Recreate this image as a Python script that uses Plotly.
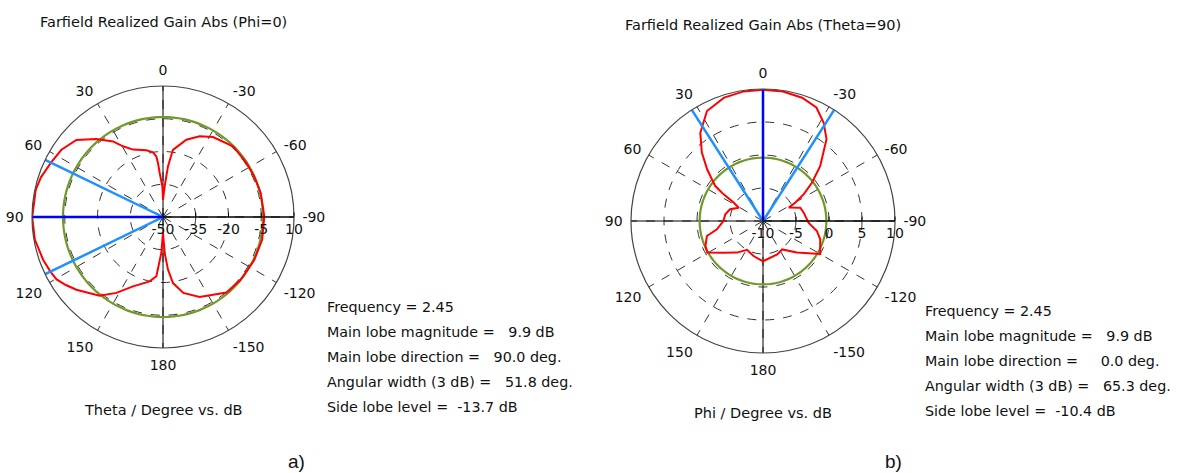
import plotly.graph_objects as go

# ---------------- data ----------------
angle_ticks = [0, 30, 60, 90, 120, 150, 180, 210, 240, 270, 300, 330]
angle_labels = ["0", "30", "60", "90", "120", "150", "180", "-150", "-120", "-90", "-60", "-30"]

# (a) Phi = 0 cut, theta in degrees, gain in dB
theta_a = [-180, -177.3, -174.6, -171.4, -165, -155.4, -140, -129, -115.4, -103, -89.6, -76, -65.7,
           -57, -44.7, -32, -24.4, -16.8, -8.4, -5.6, -3.1, 0,
           1.2, 4.3, 5.3, 6.3, 8.8, 14, 24, 29.5, 33.5, 40.5, 48.3, 56.5, 64, 72, 78, 90,
           100, 109.6, 116, 120.4, 125, 130, 141.2, 148.4, 156.6, 168.3, 173.6, 177.3, 180]
gain_a = [-42.7, -33.5, -25.8, -19.4, -14.0, -9.7, -4.8, -4.3, -3.8, -3.4, -3.6, -3.9, -4.3,
          -4.5, -4.4, -6.8, -9.4, -13.0, -18.9, -26.7, -35.9, -42.2,
          -35.9, -29.8, -25.2, -22.1, -20.0, -18.5, -16.2, -12.8, -8.5, -3.0, 3.1, 5.8, 7.0, 8.8, 9.6, 9.9,
          9.6, 8.3, 7.3, 6.5, 4.3, 1.8, -3.7, -9.2, -15.4, -19.9, -22.7, -33.5, -42.7]
green_a = -4.2
range_a = [-50, 10]
rticks_a = [-50, -35, -20, -5, 10]
info_a = {"freq": 2.45, "mag": 9.9, "dir": 90.0, "width": 51.8, "sll": -13.7}

# (b) Theta = 90 cut, phi in degrees, gain in dB
phi_b = [-180, -157, -146, -133, -120, -107.7, -100.5, -92, -78.4, -70.3, -62.5, -60.4, -56.7,
         -52, -46.2, -37.8, -31.7, -25.2, -17.6, -8.8, 0, 8.4, 17.5, 27, 35.4, 41.8, 47.3, 53.7,
         55.9, 58, 61.3, 70.3, 80, 90, 100.3, 105, 113.4, 119.5, 128.8, 140.6, 151, 165, 180]
gain_b = [-3.9, -4.5, -4.8, -3.0, 0.0, -0.9, -1.7, -3.1, -3.7, -4.0, -5.6, -4.4, -2.6,
          -0.6, 2.0, 5.7, 7.5, 9.0, 9.6, 9.85, 9.9, 9.85, 9.6, 8.7, 6.4, 3.9, 1.5, -1.0,
          -2.8, -4.8, -5.8, -4.7, -4.2, -4.0, -2.9, -1.2, -0.5, -0.3, -2.3, -3.8, -5.0, -4.5, -3.9]
green_b = -0.4
range_b = [-10, 10]
rticks_b = [-10, -5, 0, 5, 10]
info_b = {"freq": 2.45, "mag": 9.9, "dir": 0.0, "width": 65.3, "sll": -10.4}

W, H = 1192, 473
FONT = "DejaVu Sans"
TXT = "#111111"

fig = go.Figure()


def add_panel(sub, th, g, green, rng, info):
    # solid cross axes
    fig.add_trace(go.Scatterpolar(r=[rng[1], rng[0], rng[1]], theta=[0, 0, 180], mode="lines",
                                  line=dict(color="black", width=1), subplot=sub, hoverinfo="skip"))
    fig.add_trace(go.Scatterpolar(r=[rng[1], rng[0], rng[1]], theta=[90, 90, 270], mode="lines",
                                  line=dict(color="black", width=1), subplot=sub, hoverinfo="skip"))
    # green reference circle
    circ_t = list(range(0, 361, 3))
    fig.add_trace(go.Scatterpolar(r=[green] * len(circ_t), theta=circ_t, mode="lines",
                                  line=dict(color="#6f9a2a", width=2.2), subplot=sub))
    # red pattern
    fig.add_trace(go.Scatterpolar(r=g, theta=th, mode="lines",
                                  line=dict(color="#ff0000", width=2), subplot=sub))
    # beam width lines
    d, w = info["dir"], info["width"] / 2
    for a in (d - w, d + w):
        fig.add_trace(go.Scatterpolar(r=[rng[0], rng[1]], theta=[a, a], mode="lines",
                                      line=dict(color="#1e90ff", width=2.5), subplot=sub))
    fig.add_trace(go.Scatterpolar(r=[rng[0], info["mag"]], theta=[d, d], mode="lines",
                                  line=dict(color="#0000ff", width=2.5), subplot=sub))


add_panel("polar", theta_a, gain_a, green_a, range_a, info_a)
add_panel("polar2", phi_b, gain_b, green_b, range_b, info_b)


def polar_layout(cx, cy, rad, rng, rticks):
    return dict(
        domain=dict(x=[(cx - rad) / W, (cx + rad) / W], y=[(H - cy - rad) / H, (H - cy + rad) / H]),
        bgcolor="white",
        angularaxis=dict(rotation=90, direction="counterclockwise", tickmode="array",
                         tickvals=angle_ticks, ticktext=angle_labels,
                         showgrid=True, gridcolor="#333", griddash="dash", gridwidth=1,
                         showline=True, linecolor="#444", linewidth=1.2,
                         ticks="outside", ticklen=5, tickcolor="rgba(0,0,0,0)",
                         tickfont=dict(family=FONT, size=14, color=TXT)),
        radialaxis=dict(range=rng, tickmode="array", tickvals=rticks,
                        ticktext=[str(v) for v in rticks], angle=0, tickangle=0,
                        side="clockwise", showline=True, linecolor="black", linewidth=1,
                        showgrid=True, gridcolor="#333", griddash="dash", gridwidth=1,
                        ticks="inside", ticklen=4, tickcolor="black",
                        tickfont=dict(family=FONT, size=14, color=TXT)),
    )


fig.update_layout(
    width=W, height=H, margin=dict(l=0, r=0, t=0, b=0),
    paper_bgcolor="white", plot_bgcolor="white", showlegend=False,
    polar=polar_layout(163, 217, 131, range_a, rticks_a),
    polar2=polar_layout(763, 221, 132, range_b, rticks_b),
)


def ann(text, x, y, size=14.5, xanchor="center", family=FONT):
    fig.add_annotation(text=text, x=x / W, y=1 - y / H, xref="paper", yref="paper",
                       xanchor=xanchor, yanchor="middle", showarrow=False,
                       font=dict(family=family, size=size, color=TXT))


ann("Farfield Realized Gain Abs (Phi=0)", 163, 22)
ann("Farfield Realized Gain Abs (Theta=90)", 763, 25)
ann("Theta / Degree vs. dB", 163, 410)
ann("Phi / Degree vs. dB", 763, 413)

NB = "\u00a0"


def info_lines(info):
    return [
        f"Frequency = {info['freq']}",
        f"Main lobe magnitude ={NB*3}{info['mag']:.1f} dB",
        f"Main lobe direction ={NB*3}{info['dir']:.1f} deg." if info['dir'] >= 10 else
        f"Main lobe direction ={NB*5}{info['dir']:.1f} deg.",
        f"Angular width (3 dB) ={NB*3}{info['width']:.1f} deg.",
        f"Side lobe level ={NB*2}{info['sll']:.1f} dB",
    ]


for i, line in enumerate(info_lines(info_a)):
    ann(line, 325, 307 + 25 * i, size=14.3, xanchor="left")
for i, line in enumerate(info_lines(info_b)):
    ann(line, 923, 311 + 25 * i, size=14.3, xanchor="left")

ann("a)", 296, 461, size=19, family="Liberation Sans")
ann("b)", 893, 461, size=19, family="Liberation Sans")

fig.write_html("out.html", config={"displayModeBar": False},
               post_script="document.body.style.margin='0px';document.body.style.overflow='hidden';")
